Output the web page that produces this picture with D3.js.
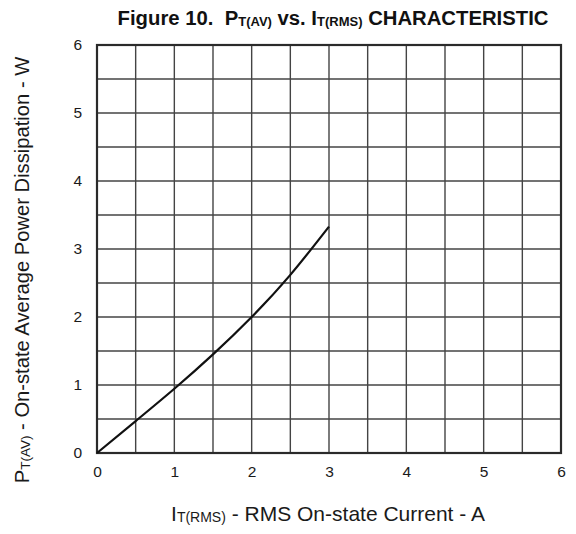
<!DOCTYPE html>
<html><head><meta charset="utf-8">
<script src="https://cdn.jsdelivr.net/npm/d3@7"></script>
<style>
html,body{margin:0;padding:0;background:#fff;}
svg{display:block;font-family:"Liberation Sans",Arial,sans-serif;}
text{white-space:pre;}
</style></head>
<body>
<svg id="chart" width="576" height="534"></svg>
<script>
const currentA = [0, 0.5, 1, 1.5, 2, 2.5, 3];
const powerW   = [0, 0.47, 0.945, 1.45, 2.0, 2.62, 3.33];
const xTickValues = [0, 1, 2, 3, 4, 5, 6];
const yTickValues = [0, 1, 2, 3, 4, 5, 6];
const gridStep = 0.5;

const svg = d3.select("#chart");
const L = 97, R = 561, T = 45, B = 453;
const x = d3.scaleLinear().domain([0, 6]).range([L, R]);
const y = d3.scaleLinear().domain([0, 6]).range([B, T]);

const gridVals = d3.range(0, 6 + 1e-9, gridStep);

// grid
svg.append("g").selectAll("line").data(gridVals).join("line")
  .attr("x1", d => x(d)).attr("x2", d => x(d))
  .attr("y1", T).attr("y2", B)
  .attr("stroke", "#444").attr("stroke-width", 1.4);
svg.append("g").selectAll("line").data(gridVals).join("line")
  .attr("y1", d => y(d)).attr("y2", d => y(d))
  .attr("x1", L).attr("x2", R)
  .attr("stroke", "#444").attr("stroke-width", 1.4);

// frame
svg.append("rect").attr("x", L).attr("y", T).attr("width", R - L).attr("height", B - T)
  .attr("fill", "none").attr("stroke", "#2a2a2a").attr("stroke-width", 2.2);

// axes
const xAxis = svg.append("g").attr("transform", `translate(0,${B})`)
  .call(d3.axisBottom(x).tickValues(xTickValues).tickSize(0).tickPadding(13).tickFormat(d3.format("d")));
const yAxis = svg.append("g").attr("transform", `translate(${L},0)`)
  .call(d3.axisLeft(y).tickValues(yTickValues).tickSize(0).tickPadding(15).tickFormat(d3.format("d")));
[xAxis, yAxis].forEach(a => {
  a.select(".domain").remove();
  a.selectAll("text").attr("font-size", 15.5).attr("fill", "#1a1a1a")
    .attr("font-family", "Liberation Sans, Arial, sans-serif");
});

// curve
const pts = currentA.map((c, i) => [c, powerW[i]]);
svg.append("path").datum(pts)
  .attr("fill", "none").attr("stroke", "#111").attr("stroke-width", 2.2)
  .attr("d", d3.line().x(d => x(d[0])).y(d => y(d[1])).curve(d3.curveNatural));

// title
const title = svg.append("text").attr("x", 333).attr("y", 25)
  .attr("text-anchor", "middle").attr("font-weight", "bold").attr("font-size", 20.3).attr("fill", "#111");
title.append("tspan").text("Figure 10.  P");
title.append("tspan").attr("font-size", 13).attr("dy", 1).text("T(AV)");
title.append("tspan").attr("dy", -1).text(" vs. I");
title.append("tspan").attr("font-size", 13).attr("dy", 1).text("T(RMS)");
title.append("tspan").attr("dy", -1).text(" CHARACTERISTIC");

// x title
const xt = svg.append("text").attr("x", 328).attr("y", 521)
  .attr("text-anchor", "middle").attr("font-size", 21).attr("fill", "#1a1a1a");
xt.append("tspan").text("I");
xt.append("tspan").attr("font-size", 14).attr("dy", 1).text("T(RMS)");
xt.append("tspan").attr("dy", -1).text(" - RMS On-state Current - A");

// y title
const yt = svg.append("text").attr("transform", "translate(29,270) rotate(-90)")
  .attr("text-anchor", "middle").attr("font-size", 20.2).attr("fill", "#1a1a1a");
yt.append("tspan").text("P");
yt.append("tspan").attr("font-size", 13.5).attr("dy", 1).text("T(AV)");
yt.append("tspan").attr("dy", -1).text(" - On-state Average Power Dissipation - W");
</script>
</body></html>
